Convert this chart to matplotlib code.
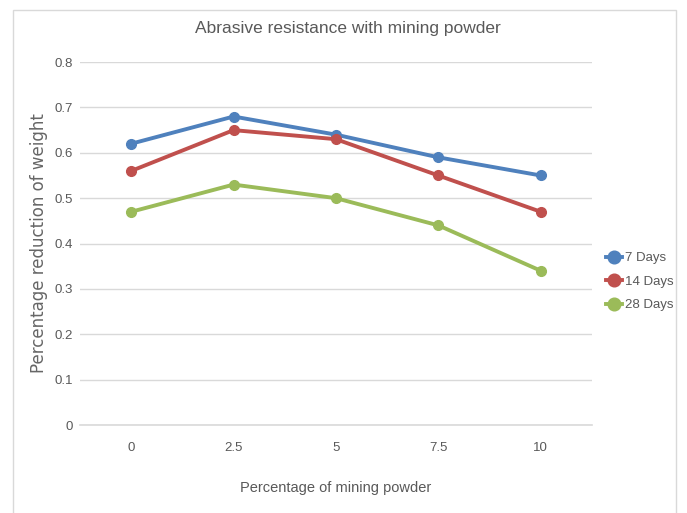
import matplotlib
matplotlib.use("Agg")
from matplotlib import pyplot as plt
from matplotlib.patches import Rectangle

# Data
categories = ["0", "2.5", "5", "7.5", "10"]
days_7 = [0.62, 0.68, 0.64, 0.59, 0.55]
days_14 = [0.56, 0.65, 0.63, 0.55, 0.47]
days_28 = [0.47, 0.53, 0.50, 0.44, 0.34]
series_names = ["7 Days", "14 Days", "28 Days"]

plt.rcParams['font.family'] = ['Liberation Sans', 'DejaVu Sans']
text_col = "#595959"

fig = plt.figure(figsize=(6.87, 5.13), dpi=100)
ax = fig.add_axes([0.1164, 0.1715, 0.7453, 0.7075])

x = range(len(categories))
colors = ["#4F81BD", "#C0504D", "#9BBB59"]
for vals, name, c in zip([days_7, days_14, days_28], series_names, colors):
    ax.plot(x, vals, color=c, linewidth=2.8, marker="o", markersize=7, label=name)

ax.set_xlim(-0.5, 4.5)
ax.set_ylim(0, 0.8)
ax.set_yticks([0, 0.1, 0.2, 0.3, 0.4, 0.5, 0.6, 0.7, 0.8])
ax.set_yticklabels(["0", "0.1", "0.2", "0.3", "0.4", "0.5", "0.6", "0.7", "0.8"])
ax.set_xticks(list(x))
ax.set_xticklabels(categories)
ax.grid(axis="y", color="#D9D9D9", linewidth=1)
ax.set_axisbelow(True)
for s in ["top", "right", "left"]:
    ax.spines[s].set_visible(False)
ax.spines["bottom"].set_color("#D9D9D9")
ax.spines["bottom"].set_linewidth(1.2)
ax.tick_params(length=0, colors=text_col, labelsize=9.5, pad=12)
ax.tick_params(axis="y", pad=5)

ax.set_title("Abrasive resistance with mining powder", color=text_col, fontsize=12.5,
             pad=21, x=0.523)
ax.set_xlabel("Percentage of mining powder", color=text_col, fontsize=10.5, labelpad=20)
ax.set_ylabel("Percentage reduction of weight", color="#666666", fontsize=12,
              family="DejaVu Sans", labelpad=5)

ax.legend(loc="center left", bbox_to_anchor=(1.005, 0.395), frameon=False,
          fontsize=9.5, labelcolor=text_col, handlelength=1.2, handletextpad=0.2,
          borderaxespad=0.5, labelspacing=0.85, markerscale=1.3)

fig.patches.append(Rectangle((13 / 687, -0.01), 663 / 687, 1 - 10 / 513 + 0.01,
                             transform=fig.transFigure, fill=False,
                             edgecolor="#D9D9D9", linewidth=1))

fig.savefig("out.png", dpi=100)
